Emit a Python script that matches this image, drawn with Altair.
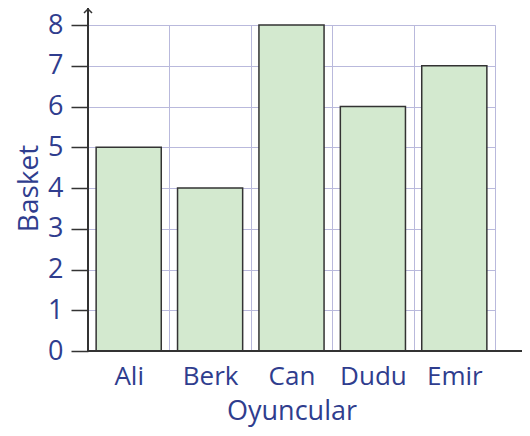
import altair as alt
import pandas as pd

players = ["Ali", "Berk", "Can", "Dudu", "Emir"]
baskets = [5, 4, 8, 6, 7]
y_ticks = [0, 1, 2, 3, 4, 5, 6, 7, 8]

df = pd.DataFrame({"Oyuncular": players, "Basket": baskets})

BLUE = "#2f3d8e"
DARK = "#333333"
GRID = "#b9b9dc"
FONT = "Open Sans"

base = alt.Chart(df)

bars = base.mark_bar(
    fill="#d3e9cf", stroke=DARK, strokeWidth=1.5, width=alt.RelativeBandSize(0.8)
).encode(
    x=alt.X(
        "Oyuncular:N",
        sort=players,
        scale=alt.Scale(paddingInner=0, paddingOuter=0),
        axis=alt.Axis(
            title="Oyuncular",
            labelAngle=0,
            ticks=False,
            domain=False,
            grid=True,
            gridColor=GRID,
            gridWidth=1,
            tickBand="extent",
            labelFontSize=26,
            labelColor=BLUE,
            labelFont=FONT,
            labelPadding=12,
            titleFontSize=27,
            titleColor=BLUE,
            titleFont=FONT,
            titleFontWeight="normal",
            titlePadding=9,
        ),
    ),
    y=alt.Y(
        "Basket:Q",
        scale=alt.Scale(domain=[0, 8], nice=False),
        axis=alt.Axis(
            title="Basket",
            values=y_ticks,
            domain=False,
            ticks=True,
            tickSize=17,
            tickColor=DARK,
            tickWidth=1.5,
            grid=True,
            gridColor=GRID,
            gridWidth=1,
            labelFontSize=27,
            labelColor=BLUE,
            labelFont=FONT,
            labelPadding=8,
            titleFontSize=28,
            titleColor=BLUE,
            titleFont=FONT,
            titleFontWeight="normal",
            titlePadding=4,
        ),
    ),
)

y_axis_line = base.mark_rule(color=DARK, strokeWidth=1.5).encode(
    x=alt.value(0), y=alt.value(-18), y2=alt.value(326)
)
x_axis_line = base.mark_rule(color=DARK, strokeWidth=1.5).encode(
    x=alt.value(0), x2=alt.value(434), y=alt.value(326)
)
arrow = alt.Chart(pd.DataFrame({"a": [0]})).mark_point(
    shape="M-1,1L0,0L1,1", size=64, filled=False, stroke=DARK, strokeWidth=1.5, opacity=1
).encode(x=alt.value(0), y=alt.value(-16))

chart = (
    alt.layer(bars, y_axis_line, x_axis_line, arrow)
    .properties(
        width=407,
        height=326,
        autosize=alt.AutoSizeParams(type="none"),
        padding={"left": 80, "top": 17, "right": 27, "bottom": 76},
    )
    .configure_view(stroke=None)
    .configure(background="white")
)

chart.save("out.html", embed_options={"renderer": "svg", "actions": False})
